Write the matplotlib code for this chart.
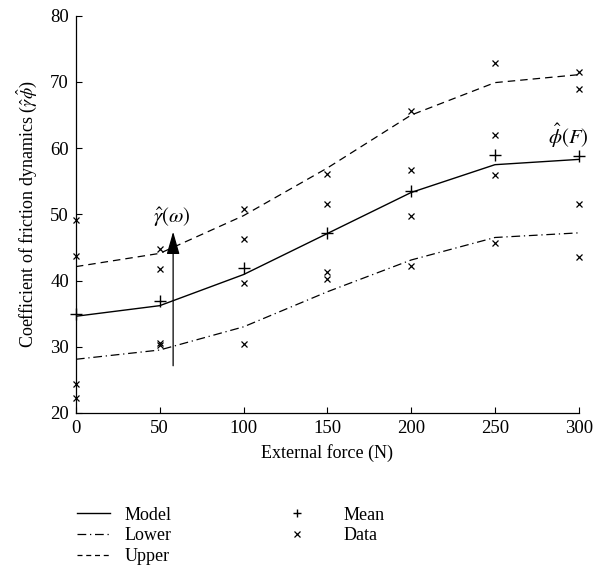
import matplotlib
matplotlib.use("Agg")
import matplotlib.pyplot as plt
from matplotlib.lines import Line2D

plt.rcParams['font.family'] = ['Liberation Serif', 'DejaVu Serif']
plt.rcParams['mathtext.fontset'] = 'stix'

force = [0, 50, 100, 150, 200, 250, 300]
model = [34.6, 36.2, 40.9, 47.1, 53.3, 57.5, 58.3]
mean = [34.9, 36.9, 41.9, 47.2, 53.5, 58.9, 58.8]
upper = [42.1, 44.1, 49.8, 57.0, 65.0, 69.9, 71.1]
lower = [28.1, 29.5, 33.0, 38.3, 43.1, 46.5, 47.2]
data_x = [0, 0, 0, 0, 50, 50, 50, 50, 100, 100, 100, 100,
          150, 150, 150, 150, 200, 200, 200, 200,
          250, 250, 250, 250, 300, 300, 300, 300]
data_y = [49.2, 43.7, 24.3, 22.3, 44.7, 41.7, 30.6, 30.2, 50.8, 46.3, 39.7, 30.4,
          56.1, 51.5, 41.3, 40.2, 65.6, 56.7, 49.7, 42.2,
          72.8, 62.0, 56.0, 45.6, 71.5, 69.0, 51.5, 43.6]

fig = plt.figure(figsize=(5.93, 5.84), dpi=100)
ax = fig.add_axes([0.128, 0.293, 0.848, 0.680])

ax.plot(force, model, color='black', lw=1.0, ls='-')
ax.plot(force, lower, color='black', lw=0.9, ls=(0, (7, 3, 1, 3)))
ax.plot(force, upper, color='black', lw=0.9, ls=(0, (6, 4)))
ax.plot(force, mean, ls='none', marker='+', ms=8, mew=1.0, color='black', clip_on=False)
ax.plot(data_x, data_y, ls='none', marker='x', ms=5, mew=0.9, color='black', clip_on=False)

ax.annotate('', xy=(58, 47.8), xytext=(58, 26.7),
            arrowprops=dict(arrowstyle='-|>,head_length=1.4,head_width=0.4',
                            color='black', lw=0.9))
ax.text(57, 49.6, r'$\hat{\gamma}(\omega)$', ha='center', va='center', fontsize=15)
ax.text(294, 61.9, r'$\hat{\phi}(F)$', ha='center', va='center', fontsize=15)

ax.set_xlim(0, 300)
ax.set_ylim(20, 80)
ax.set_xticks([0, 50, 100, 150, 200, 250, 300])
ax.set_yticks([20, 30, 40, 50, 60, 70, 80])
ax.tick_params(direction='in', length=4, labelsize=13.5, width=0.8, pad=5)
for s in ['top', 'right']:
    ax.spines[s].set_visible(False)
for s in ['left', 'bottom']:
    ax.spines[s].set_linewidth(0.9)
ax.set_xlabel('External force (N)', fontsize=13, labelpad=5)
ax.set_ylabel(r'Coefficient of friction dynamics ($\hat{\gamma}\hat{\phi}$)', fontsize=13, labelpad=8)

line_handles = [
    Line2D([], [], color='black', lw=1.0, ls='-'),
    Line2D([], [], color='black', lw=0.9, ls=(0, (7, 3, 1, 3))),
    Line2D([], [], color='black', lw=0.9, ls=(0, (4, 3))),
]
marker_handles = [
    Line2D([], [], color='black', ls='none', marker='+', ms=6, mew=1.0),
    Line2D([], [], color='black', ls='none', marker='x', ms=4, mew=0.9),
]
line_labels = ['Model', 'Lower', 'Upper']
marker_labels = ['Mean', 'Data']
fig.legend(line_handles, line_labels, loc='upper left', bbox_to_anchor=(0.103, 0.16),
           frameon=False, fontsize=13, handlelength=1.8,
           labelspacing=0.2, handletextpad=0.83)
fig.legend(marker_handles, marker_labels, loc='upper left', bbox_to_anchor=(0.459, 0.16),
           frameon=False, fontsize=13, handlelength=1.0,
           labelspacing=0.2, handletextpad=2.05)

fig.savefig('out.png', dpi=100)
